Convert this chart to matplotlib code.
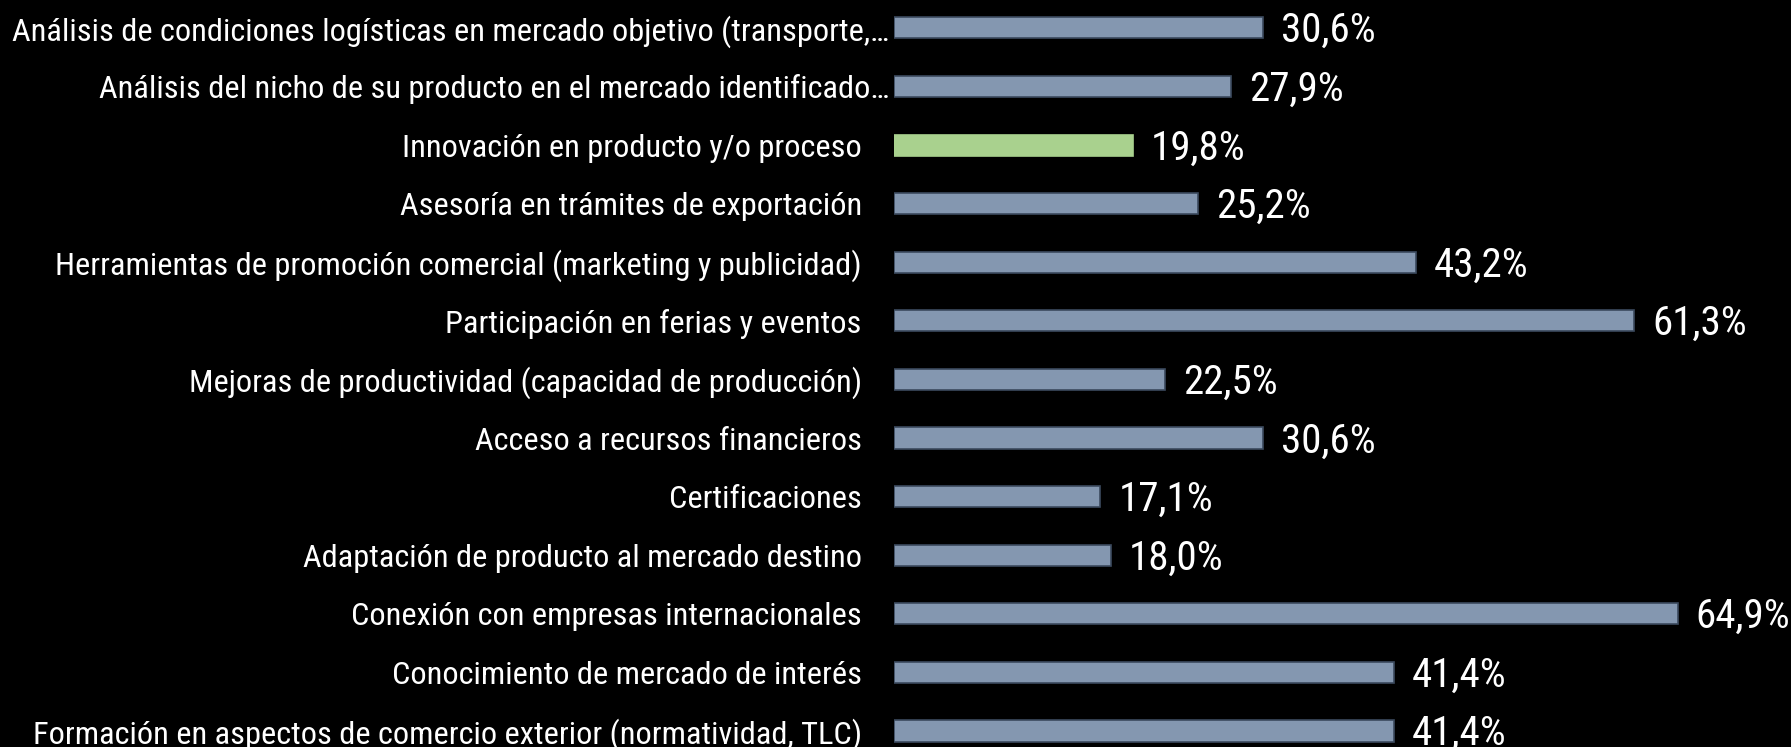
import matplotlib.pyplot as plt

categories = [
    "Análisis de condiciones logísticas en mercado objetivo (transporte,…",
    "Análisis del nicho de su producto en el mercado identificado…",
    "Innovación en producto y/o proceso",
    "Asesoría en trámites de exportación",
    "Herramientas de promoción comercial (marketing y publicidad)",
    "Participación en ferias y eventos",
    "Mejoras de productividad (capacidad de producción)",
    "Acceso a recursos financieros",
    "Certificaciones",
    "Adaptación de producto al mercado destino",
    "Conexión con empresas internacionales",
    "Conocimiento de mercado de interés",
    "Formación en aspectos de comercio exterior (normatividad, TLC)",
]
values = [30.6, 27.9, 19.8, 25.2, 43.2, 61.3, 22.5, 30.6, 17.1, 18.0, 64.9, 41.4, 41.4]
highlight = "Innovación en producto y/o proceso"
truncated = [c for c in categories if c.endswith("…")]

plt.rcParams['font.family'] = ['Roboto Condensed', 'DejaVu Sans']

fig = plt.figure(figsize=(17.91, 7.47), dpi=100, facecolor="black")
ax = fig.add_axes([0.499, -0.0178, 0.4721, 1.0197])
ax.set_facecolor("black")

colors = ["#A9D18E" if c == highlight else "#8497B0" for c in categories]
edges = ["#A9D18E" if c == highlight else "#3B4A5E" for c in categories]
pos = list(range(len(categories)))
ax.barh(pos, values, height=0.36, color=colors, edgecolor=edges, linewidth=1.2)

for p, v in zip(pos, values):
    ax.annotate(f"{v:.1f}%".replace(".", ","), (v, p), xytext=(13, -2),
                textcoords="offset points", va="center", ha="left",
                color="white", fontsize=29.5, annotation_clip=False)

ax.set_xlim(0, 70)
ax.set_ylim(len(categories) - 0.5, -0.5)
ax.set_yticks(pos)
ax.set_yticklabels(categories, fontsize=23.3, color="white")
ax.tick_params(axis="y", length=0)
for tick, c in zip(ax.yaxis.get_major_ticks(), categories):
    tick.set_pad(3 if c in truncated else 23)
ax.set_xticks([])
for s in ax.spines.values():
    s.set_visible(False)

fig.savefig("out.png", dpi=100, facecolor="black")
